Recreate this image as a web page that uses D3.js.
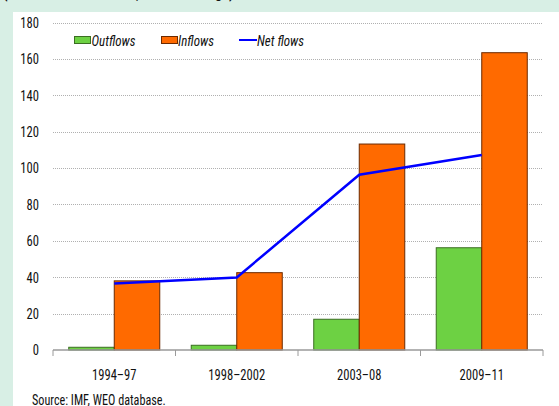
<!DOCTYPE html>
<html>
<head>
<meta charset="utf-8">
<script src="https://cdn.jsdelivr.net/npm/d3@7"></script>
<style>
  html, body { margin: 0; padding: 0; background: #d8efe5; }
  svg { display: block; }
  text { font-family: "Liberation Sans Narrow", "Arial Narrow", "Roboto Condensed", Roboto, sans-serif; fill: #111; }
</style>
</head>
<body>
<svg id="chart" width="559" height="406"></svg>
<script>
// Capital flows by period (billions of U.S. dollars, annual average)
const categories = ["1994–97", "1998–2002", "2003–08", "2009–11"];
const outflows = [1.5, 2.6, 16.9, 56.2];
const inflows = [38.0, 42.5, 113.2, 163.4];
const netFlows = [36.5, 39.9, 96.3, 107.2];
const yTicks = [0, 20, 40, 60, 80, 100, 120, 140, 160, 180];

const colors = { out: "#6dd143", outEdge: "#3b6e22", in: "#ff6a00", inEdge: "#6b2a00", net: "#0000ff" };
const narrow = "scale(0.84,1)";

const svg = d3.select("#chart");

// white panel
svg.append("rect").attr("x", 13).attr("y", 12).attr("width", 546).attr("height", 394).attr("fill", "#fff");

// title line running off the top edge
svg.append("text").attr("transform", "translate(3,-2) " + narrow)
  .style("font-size", "17px").style("font-weight", "bold")
  .text("(Billions of U.S. dollars; annual average)");

const plotLeft = 53, plotRight = 543, plotTop = 22.5, plotBottom = 350;

const x = d3.scaleBand().domain(categories).range([plotLeft, plotRight]).paddingInner(0).paddingOuter(0);
const inner = d3.scaleBand().domain(["out", "in"]).range([0, x.bandwidth()]).paddingInner(0).paddingOuter(0.346);
const y = d3.scaleLinear().domain([0, 180]).range([plotBottom, plotTop]);

// gridlines
svg.append("g").selectAll("line").data(yTicks.filter(d => d > 0)).join("line")
  .attr("x1", plotLeft).attr("x2", plotRight)
  .attr("y1", d => Math.round(y(d)) + 0.5).attr("y2", d => Math.round(y(d)) + 0.5)
  .attr("stroke", "#b0b0b0").attr("stroke-width", 1).attr("stroke-dasharray", "1,1");

// y axis labels
const yAxis = d3.axisLeft(y).tickValues(yTicks).tickSize(0).tickPadding(0);
const gy = svg.append("g").attr("transform", `translate(${39},0)`).call(yAxis);
gy.select(".domain").remove();
gy.selectAll("text").style("font-size", "15px").attr("fill", "#111").attr("transform", narrow);

// bars
const groups = svg.append("g").selectAll("g").data(categories).join("g")
  .attr("transform", d => `translate(${x(d)},0)`);

groups.append("rect")
  .attr("x", (d, i) => inner("out")).attr("width", inner.bandwidth())
  .attr("y", (d, i) => y(outflows[i])).attr("height", (d, i) => y(0) - y(outflows[i]))
  .attr("fill", colors.out).attr("stroke", colors.outEdge).attr("stroke-width", 1);

groups.append("rect")
  .attr("x", (d, i) => inner("in")).attr("width", inner.bandwidth())
  .attr("y", (d, i) => y(inflows[i])).attr("height", (d, i) => y(0) - y(inflows[i]))
  .attr("fill", colors.in).attr("stroke", colors.inEdge).attr("stroke-width", 1);

// x axis
const xAxis = d3.axisBottom(x).tickSize(0).tickPadding(19);
const gx = svg.append("g").attr("transform", `translate(0,${plotBottom})`).call(xAxis);
gx.select(".domain").attr("stroke", "#9a9a9a").attr("stroke-width", 1.5).attr("d", `M${plotLeft},0H${plotRight}`);
gx.selectAll("text").style("font-size", "15px").attr("fill", "#111").attr("transform", narrow);
svg.append("g").selectAll("line").data(d3.range(categories.length + 1)).join("line")
  .attr("x1", i => plotLeft + i * x.step()).attr("x2", i => plotLeft + i * x.step())
  .attr("y1", plotBottom).attr("y2", plotBottom + 6)
  .attr("stroke", "#9a9a9a").attr("stroke-width", 1);

// net flows line through category centres
const line = d3.line().x((d, i) => x(categories[i]) + x.bandwidth() / 2).y(d => y(d));
svg.append("path").datum(netFlows).attr("d", line)
  .attr("fill", "none").attr("stroke", colors.net).attr("stroke-width", 2.5);

// legend
const lg = svg.append("g").attr("transform", "translate(0,40)");
const legendText = (px, label) => lg.append("text")
  .attr("transform", `translate(${px},5.5) ${narrow}`)
  .style("font-size", "15.5px").style("font-style", "italic").text(label);
lg.append("rect").attr("x", 74.5).attr("y", -3.5).attr("width", 16).attr("height", 7)
  .attr("fill", colors.out).attr("stroke", colors.outEdge);
legendText(91.5, "Outflows");
lg.append("rect").attr("x", 161.5).attr("y", -3.5).attr("width", 16).attr("height", 7)
  .attr("fill", colors.in).attr("stroke", colors.inEdge);
legendText(178, "Inflows");
lg.append("line").attr("x1", 239).attr("x2", 257).attr("y1", 0).attr("y2", 0)
  .attr("stroke", colors.net).attr("stroke-width", 2);
legendText(257, "Net flows");

// source note
svg.append("text").attr("transform", `translate(32,405) ${narrow}`)
  .style("font-size", "14.5px").text("Source: IMF, WEO database.");
</script>
</body>
</html>
